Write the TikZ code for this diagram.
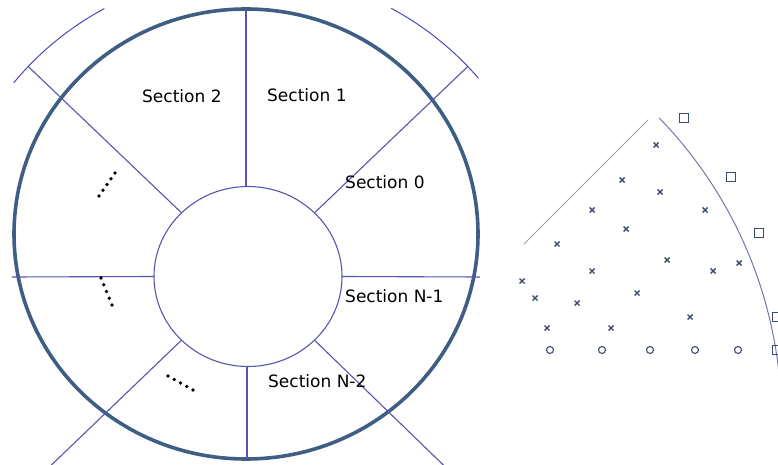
\documentclass[tikz,border=0pt]{standalone}
\usepackage{fontspec}
\setsansfont{DejaVu Sans}
\usetikzlibrary{calc}

\definecolor{ringblue}{HTML}{3E5E84}
\definecolor{cutblue}{HTML}{5656AE}
\definecolor{rimblue}{HTML}{4A4AC0}
\definecolor{meshgrey}{HTML}{9C9CAA}
\definecolor{edgeblue}{HTML}{7676A6}
\definecolor{markblue}{HTML}{3C4A6C}

\begin{document}
\begin{tikzpicture}[
  x=1pt, y=1pt,
  ring/.style = {
    draw=ringblue,
    line width=3.6pt
  },
  cut/.style = {draw=cutblue, line width=1.1pt},
  rim/.style = {draw=rimblue, line width=1pt},
  seclabel/.style = {
    font=\sffamily\fontsize{17}{20}\selectfont,
    anchor=west,
    inner sep=0pt
  },
  cross/.style = {draw=markblue, line width=1.4pt},
  squaremark/.style = {draw=markblue, line width=1.3pt},
  circmark/.style = {draw=markblue, line width=1.1pt}
]

\clip (0,0) rectangle (778,464);

% ======================================================
% LEFT: ring cut into sections
% ======================================================

\coordinate (ring_ctr) at (246,230);
\coordinate (hub_ctr) at (248,187.5);

\draw[ring] (ring_ctr) ellipse [x radius=232, y radius=225];
\draw[cut] (hub_ctr) ellipse [x radius=94, y radius=90];

% straight cuts
\coordinate (hub_e) at ($(hub_ctr)+(94,0)$);
\coordinate (hub_w) at ($(hub_ctr)+(-94,0)$);
\coordinate (hub_n) at ($(hub_ctr)+(-2,90)$);
\coordinate (hub_s) at ($(hub_ctr)+(-1,-90)$);
\coordinate (cut_e) at (480,187);
\coordinate (cut_w) at (12,187);
\coordinate (cut_n) at (246,454);
\coordinate (cut_s) at (247,5);

\draw[cut] (hub_e) -- (cut_e);
\draw[cut] (hub_w) -- (cut_w);
\draw[cut] (hub_n) -- (cut_n);
\draw[cut] (hub_s) -- (cut_s);

% diagonal cuts (inner angle / outer angle)
\foreach \a/\b in {45/43.7, 135/136.3, 225/223.8, 315/316}
  \draw[cut] ($(hub_ctr)+({94*cos(\a)},{90*sin(\a)})$) -- ($(hub_ctr)+(\b:304)$);

% outer rim pieces
\draw[rim] ($(hub_ctr)+(140.4:304)$) arc[start angle=140.4, end angle=118.2, radius=304];
\draw[rim] ($(hub_ctr)+(61.9:304)$) arc[start angle=61.9, end angle=40.7, radius=304];

% labels
\node[seclabel] (sec2) at (142,368) {Section 2};
\node[seclabel] (sec1) at (267,369) {Section 1};
\node[seclabel] (sec0) at (345,282) {Section 0};
\node[seclabel] (secn1) at (345,168) {Section N-1};
\node[seclabel] (secn2) at (268,83) {Section N-2};

% dots
\coordinate (dots_a1) at (115,291);
\coordinate (dots_a2) at (99,268);
\coordinate (dots_b1) at (101,186);
\coordinate (dots_b2) at (112,159);
\coordinate (dots_c1) at (168,88);
\coordinate (dots_c2) at (193,74);

\foreach \i in {0,...,4} {
  \fill ($(dots_a1)!\i/4!(dots_a2)$) circle[radius=1.8];
  \fill ($(dots_b1)!\i/4!(dots_b2)$) circle[radius=1.8];
  \fill ($(dots_c1)!\i/4!(dots_c2)$) circle[radius=1.8];
}

% ======================================================
% RIGHT: one section with its points
% ======================================================

\coordinate (apex) at (348.5,44.5);

\draw[meshgrey, line width=1pt] ($(apex)+(45:248)$) -- ($(apex)+(45:424)$);
\draw[edgeblue, line width=1pt] ($(apex)+(44.2:433)$) arc[start angle=44.2, end angle=0, radius=433];

% inner points
\foreach \x/\y in {656/319, 622/284, 660/272, 592/254, 705/254, 626/235,
                   557/220, 667/204, 592/193, 713/193, 739/201, 522/183,
                   535/166, 577/161, 637/171, 690/147, 547/136, 611/136}
  \draw[cross] (\x,\y) ++(-2.5,-2.5) -- ++(5,5) ++(-5,0) -- ++(5,-5);

% boundary points
\foreach \x/\y in {684/346, 731/287, 759/231, 777/147, 777/114}
  \draw[squaremark] (\x,\y) ++(-4.5,-4.5) rectangle ++(9,9);

\foreach \x in {550,602,650,695,738}
  \draw[circmark] (\x,114) circle[radius=3.5];

\end{tikzpicture}
\end{document}
